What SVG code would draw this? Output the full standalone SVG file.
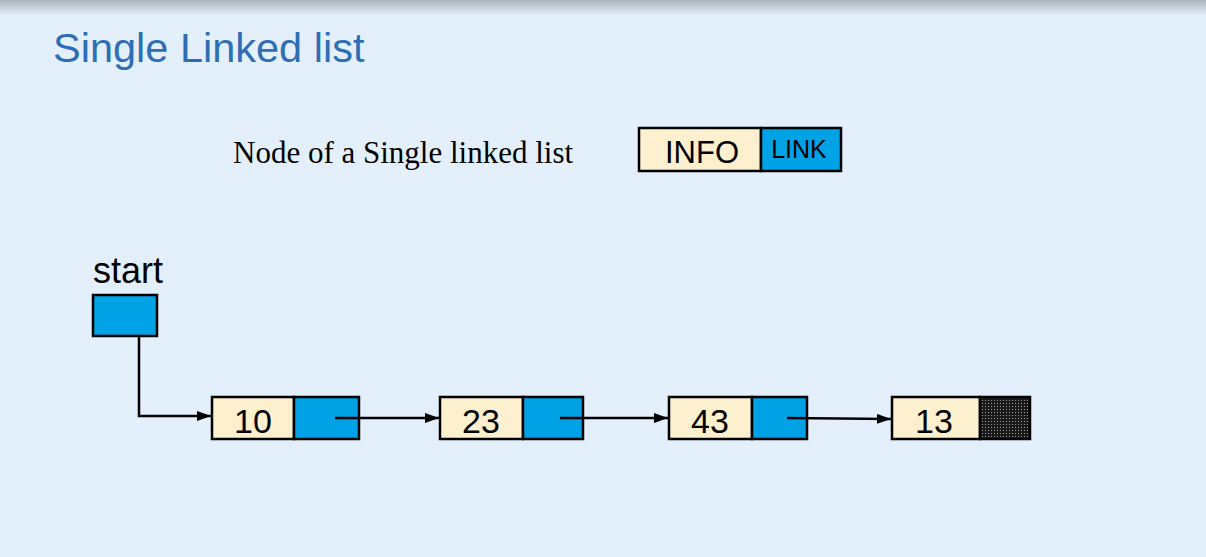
<svg xmlns="http://www.w3.org/2000/svg" width="1206" height="557" viewBox="0 0 1206 557">
<defs>
<linearGradient id="topg" x1="0" y1="0" x2="0" y2="1">
<stop offset="0" stop-color="#AEB6BF"/>
<stop offset="1" stop-color="#E3F0FC"/>
</linearGradient>
<pattern id="dots" width="3" height="3" patternUnits="userSpaceOnUse">
<rect width="3" height="3" fill="#1a1a1a"/>
<rect x="1" y="1" width="1" height="1" fill="#9a9a9a"/>
</pattern>
<marker id="arr" viewBox="0 0 14 10" refX="14" refY="5" markerWidth="14" markerHeight="10" markerUnits="userSpaceOnUse" orient="auto">
<path d="M0,0 L14,5 L0,10 Z" fill="#000"/>
</marker>
</defs>
<style>
.info{fill:#FDF0CF;stroke:#000;stroke-width:2.5}
.link{fill:#00A2E6;stroke:#000;stroke-width:2.5}
.nil{fill:url(#dots);stroke:#000;stroke-width:2.5}
.num{font-family:"Liberation Sans",Arial,sans-serif;font-size:34px;fill:#000;text-anchor:middle}
.conn{fill:none;stroke:#000;stroke-width:2.5;marker-end:url(#arr)}
</style>
<rect width="1206" height="557" fill="#E3F0FC"/>
<rect width="1206" height="16" fill="url(#topg)"/>
<text x="53" y="62" font-family="Liberation Sans, Arial, sans-serif" font-size="41.5" fill="#2E6EB5">Single Linked list</text>
<text x="233" y="163" font-family="Liberation Serif, Times New Roman, serif" font-size="31" fill="#000">Node of a Single linked list</text>
<g id="legend">
<rect class="info" x="639" y="128" width="122" height="43"/>
<rect class="link" x="761" y="128" width="80" height="43"/>
<text class="num" x="702" y="163" style="font-size:31px">INFO</text>
<text class="num" x="799" y="158" style="font-size:25px">LINK</text>
</g>
<g id="start">
<text x="93" y="283" font-family="Liberation Sans, Arial, sans-serif" font-size="36" fill="#000">start</text>
<rect class="link" x="93" y="295" width="64" height="41"/>
</g>
<g id="n10">
<rect class="info" x="212" y="397" width="82" height="42"/>
<rect class="link" x="294" y="397" width="65" height="42"/>
<text class="num" x="253" y="433">10</text>
</g>
<g id="n23">
<rect class="info" x="440" y="397" width="83" height="42"/>
<rect class="link" x="523" y="397" width="60" height="42"/>
<text class="num" x="481" y="433">23</text>
</g>
<g id="n43">
<rect class="info" x="669" y="397" width="83" height="42"/>
<rect class="link" x="752" y="397" width="55" height="42"/>
<text class="num" x="710" y="433">43</text>
</g>
<g id="n13">
<rect class="info" x="892" y="397" width="88" height="42"/>
<rect class="nil" x="980" y="397" width="50" height="42"/>
<text class="num" x="934" y="433">13</text>
</g>
<g id="connectors">
<path class="conn" d="M139,336 V416 H211"/>
<path class="conn" d="M335,418 H439"/>
<path class="conn" d="M560,418 H668"/>
<path class="conn" d="M787,418 L891,419"/>
</g>
</svg>
